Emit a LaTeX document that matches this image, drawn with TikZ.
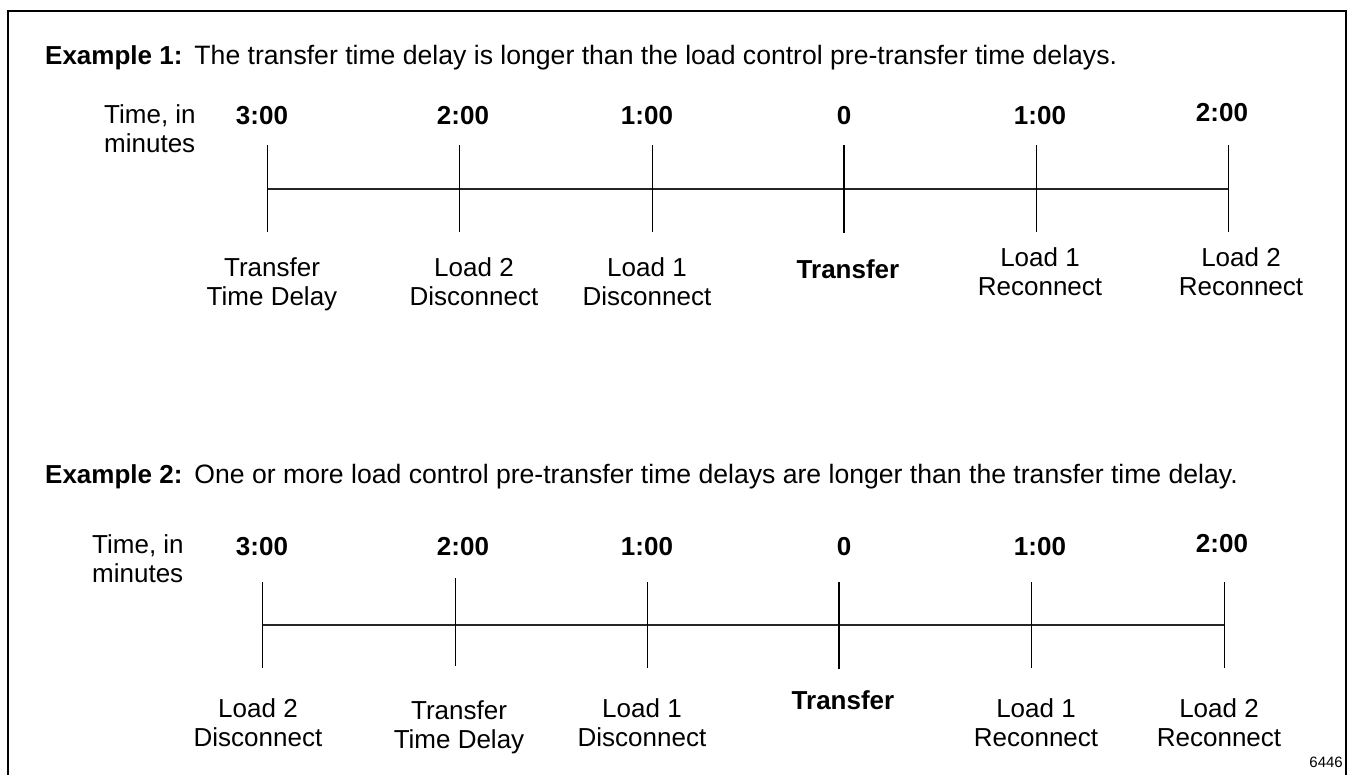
\documentclass[tikz,border=0pt]{standalone}
\usepackage{fontspec}
\setmainfont{Liberation Sans}
\begin{document}
\begin{tikzpicture}[x=1pt,y=-1pt,
  txt/.style={font=\fontsize{26}{28.5}\selectfont, inner sep=0pt, anchor=base, align=center},
  bold/.style={txt, font=\fontsize{26}{28.5}\selectfont\bfseries},
  heading/.style={txt, font=\fontsize{26.6}{28.5}\selectfont, anchor=base west, align=left},
  side/.style={txt, anchor=base west, align=left},
  tickline/.style={line width=1pt},
  zeroline/.style={line width=2.2pt},
  axisline/.style={line width=1.1pt, draw=black!85},
  frameline/.style={line width=2.5pt}]
\useasboundingbox (0,0) rectangle (1351,774);
% frame (bottom edge lies below the picture)
\draw[frameline] (8,790) -- (8,11) -- (1346,11) -- (1346,790);

% ---------------- Example 1 ----------------
\node[heading] (h1) at (45,64) {{\fontsize{26}{28.5}\selectfont\bfseries Example 1:}\hspace{12pt}The transfer time delay is longer than the load control pre-transfer time delays.};
\node[side] (s1) at (104,152) {Time, in\\minutes};

\coordinate (a1t) at (267,145); \coordinate (a1m) at (267,189); \coordinate (a1b) at (267,232);
\coordinate (b1t) at (459,145); \coordinate (b1m) at (459,189); \coordinate (b1b) at (459,232);
\coordinate (c1t) at (652,145); \coordinate (c1m) at (652,189); \coordinate (c1b) at (652,232);
\coordinate (d1t) at (844,145); \coordinate (d1m) at (844,189); \coordinate (d1b) at (844,233);
\coordinate (e1t) at (1036,145); \coordinate (e1m) at (1036,189); \coordinate (e1b) at (1036,232);
\coordinate (f1t) at (1228,145); \coordinate (f1m) at (1228,189); \coordinate (f1b) at (1228,232);

\draw[axisline] (a1m) -- (f1m);
\draw[tickline] (a1t) -- (a1b);
\draw[tickline] (b1t) -- (b1b);
\draw[tickline] (c1t) -- (c1b);
\draw[zeroline] (d1t) -- (d1b);
\draw[tickline] (e1t) -- (e1b);
\draw[tickline] (f1t) -- (f1b);

\node[bold] (n1a) at (262,124) {3:00};
\node[bold] (n1b) at (463,124) {2:00};
\node[bold] (n1c) at (647,124) {1:00};
\node[bold] (n1d) at (844,124) {0};
\node[bold] (n1e) at (1040,124) {1:00};
\node[bold] (n1f) at (1222,121) {2:00};

\node[txt] (l1a) at (272,305) {Transfer\\Time Delay};
\node[txt] (l1b) at (474,305) {Load 2\\Disconnect};
\node[txt] (l1c) at (647,305) {Load 1\\Disconnect};
\node[bold] (l1d) at (848,278) {Transfer};
\node[txt] (l1e) at (1040,295) {Load 1\\Reconnect};
\node[txt] (l1f) at (1241,295) {Load 2\\Reconnect};

% ---------------- Example 2 ----------------
\node[heading] (h2) at (45,483) {{\fontsize{26}{28.5}\selectfont\bfseries Example 2:}\hspace{12pt}One or more load control pre-transfer time delays are longer than the transfer time delay.};
\node[side] (s2) at (92,582) {Time, in\\minutes};

\coordinate (a2t) at (262,582); \coordinate (a2m) at (262,625); \coordinate (a2b) at (262,668);
\coordinate (b2t) at (455,578); \coordinate (b2m) at (455,625); \coordinate (b2b) at (455,666);
\coordinate (c2t) at (647,582); \coordinate (c2m) at (647,625); \coordinate (c2b) at (647,668);
\coordinate (d2t) at (839,582); \coordinate (d2m) at (839,625); \coordinate (d2b) at (839,669);
\coordinate (e2t) at (1031,582); \coordinate (e2m) at (1031,625); \coordinate (e2b) at (1031,668);
\coordinate (f2t) at (1224,582); \coordinate (f2m) at (1224,625); \coordinate (f2b) at (1224,668);

\draw[axisline] (a2m) -- (f2m);
\draw[tickline] (a2t) -- (a2b);
\draw[tickline] (b2t) -- (b2b);
\draw[tickline] (c2t) -- (c2b);
\draw[zeroline] (d2t) -- (d2b);
\draw[tickline] (e2t) -- (e2b);
\draw[tickline] (f2t) -- (f2b);

\node[bold] (n2a) at (262,555) {3:00};
\node[bold] (n2b) at (463,555) {2:00};
\node[bold] (n2c) at (647,555) {1:00};
\node[bold] (n2d) at (844,555) {0};
\node[bold] (n2e) at (1040,555) {1:00};
\node[bold] (n2f) at (1222,552) {2:00};

\node[txt] (l2a) at (258,746) {Load 2\\Disconnect};
\node[txt] (l2b) at (459,748) {Transfer\\Time Delay};
\node[txt] (l2c) at (642,746) {Load 1\\Disconnect};
\node[bold] (l2d) at (843,709) {Transfer};
\node[txt] (l2e) at (1036,746) {Load 1\\Reconnect};
\node[txt] (l2f) at (1219,746) {Load 2\\Reconnect};

\node[txt, anchor=base east, font=\fontsize{15}{17}\selectfont] (fig) at (1343,767) {6446};
\end{tikzpicture}
\end{document}
